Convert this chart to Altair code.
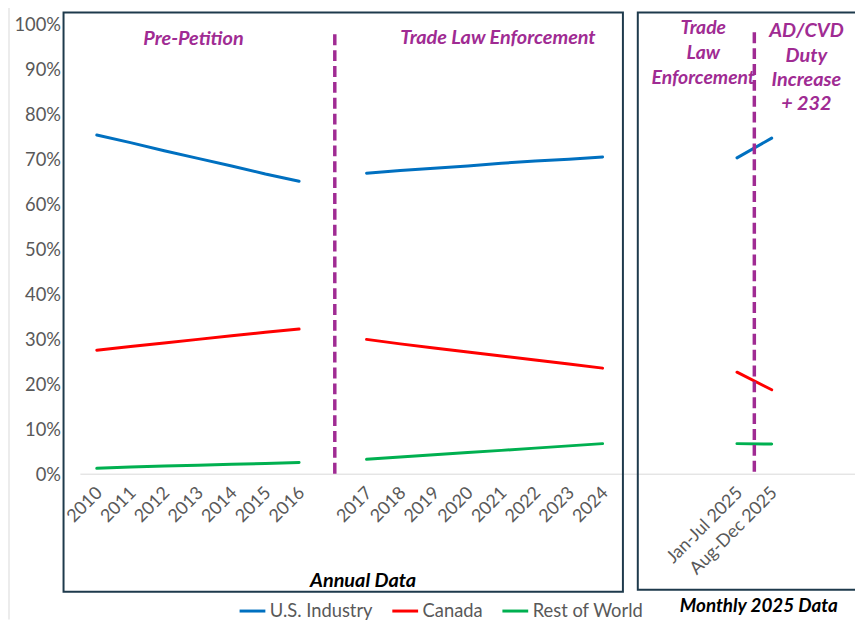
import altair as alt
import pandas as pd

# ---------------- data ----------------
years_pre = ["2010", "2011", "2012", "2013", "2014", "2015", "2016"]
years_post = ["2017", "2018", "2019", "2020", "2021", "2022", "2023", "2024"]
months = ["Jan-Jul 2025", "Aug-Dec 2025"]
series = ["U.S. Industry", "Canada", "Rest of World"]
colors = ["#0070C0", "#FF0000", "#00B050"]

us_pre = [0.755, 0.738, 0.720, 0.703, 0.686, 0.668, 0.652]
can_pre = [0.276, 0.284, 0.292, 0.300, 0.308, 0.316, 0.323]
row_pre = [0.013, 0.016, 0.018, 0.020, 0.022, 0.024, 0.026]

us_post = [0.670, 0.676, 0.681, 0.686, 0.692, 0.697, 0.701, 0.706]
can_post = [0.300, 0.290, 0.281, 0.272, 0.263, 0.254, 0.245, 0.236]
row_post = [0.033, 0.038, 0.043, 0.048, 0.053, 0.058, 0.063, 0.068]

us_m = [0.704, 0.748]
can_m = [0.227, 0.188]
row_m = [0.068, 0.067]

GAP = " "
annual_domain = years_pre + [GAP] + years_post
monthly_domain = [months[0], GAP, months[1]]

rows = []
for s, vals in zip(series, [us_pre, can_pre, row_pre]):
    for p, v in zip(years_pre, vals):
        rows.append({"period": p, "series": s, "value": v, "segment": s + " pre"})
for s, vals in zip(series, [us_post, can_post, row_post]):
    for p, v in zip(years_post, vals):
        rows.append({"period": p, "series": s, "value": v, "segment": s + " post"})
annual_df = pd.DataFrame(rows)

mrows = []
for s, vals in zip(series, [us_m, can_m, row_m]):
    for p, v in zip(months, vals):
        mrows.append({"period": p, "series": s, "value": v})
monthly_df = pd.DataFrame(mrows)

# ---------------- styles ----------------
PURPLE = "#A02B93"
NAVY = "#1E3A4C"
GRAY = "#595959"
FONT = "Lato"
W, H = 798, 584

yscale = alt.Scale(domain=[-0.2616, 1.0276], nice=False, zero=False)
cscale = alt.Scale(domain=series, range=colors)
legend = alt.Legend(orient="none", legendX=176, legendY=589, direction="horizontal",
                    title=None, symbolType="stroke", symbolStrokeWidth=3, symbolSize=676,
                    labelFontSize=18.5, labelColor=GRAY, labelFont=FONT, columnPadding=13,
                    labelOffset=3)
yaxis = alt.Axis(values=[i / 10 for i in range(11)], format=".0%", grid=False, domain=False,
                 ticks=False, labelFontSize=18.5, labelColor=GRAY, labelFont=FONT,
                 labelPadding=3, title=None)

ax = alt.X("period:N", scale=alt.Scale(type="point", domain=annual_domain,
                                        range=[33.5, 543.5], padding=0), axis=None)
mx = alt.X("period:N", scale=alt.Scale(type="point", domain=monthly_domain,
                                        range=[679, 714], padding=0), axis=None)

one = pd.DataFrame({"k": [0]})

# ---------- annual group ----------
a_lines = alt.Chart(annual_df).mark_line(strokeWidth=3, strokeCap="round").encode(
    x=ax,
    y=alt.Y("value:Q", scale=yscale, axis=yaxis),
    color=alt.Color("series:N", scale=cscale, legend=legend, sort=series),
    detail="segment:N",
)
a_labels = alt.Chart(pd.DataFrame({"period": years_pre + years_post})).mark_text(
    angle=315, align="right", baseline="middle", fontSize=18, font=FONT, color=GRAY,
    xOffset=3,
).encode(x=ax, y=alt.value(482), text="period:N")
a_dash = alt.Chart(pd.DataFrame({"period": [GAP]})).mark_rule(
    color=PURPLE, strokeWidth=3.5, strokeDash=[11, 5], xOffset=2
).encode(x=ax, y=alt.value(22), y2=alt.value(465))
annual = alt.layer(a_lines, a_labels, a_dash)

# ---------- monthly group ----------
m_lines = alt.Chart(monthly_df).mark_line(strokeWidth=3, strokeCap="round").encode(
    x=mx,
    y=alt.Y("value:Q", scale=yscale, axis=yaxis),
    color=alt.Color("series:N", scale=cscale, legend=legend, sort=series),
    detail="series:N",
)
m_labels = alt.Chart(pd.DataFrame({"period": months})).mark_text(
    angle=315, align="right", baseline="middle", fontSize=18, font=FONT, color=GRAY,
    xOffset=3,
).encode(x=mx, y=alt.value(482), text="period:N")
m_dash = alt.Chart(pd.DataFrame({"period": [GAP]})).mark_rule(
    color=PURPLE, strokeWidth=3.5, strokeDash=[11, 5]
).encode(x=mx, y=alt.value(20), y2=alt.value(463))
monthly = alt.layer(m_lines, m_labels, m_dash)

# ---------- decorations ----------
zero_line = alt.Chart(one).mark_rule(color="#D9D9D9", strokeWidth=1).encode(
    x=alt.value(17), x2=alt.value(W), y=alt.value(465.5)
)
outer_left = alt.Chart(one).mark_rule(color="#D9D9D9", strokeWidth=1).encode(
    x=alt.value(-55), y=alt.value(-7), y2=alt.value(612)
)
box_left = alt.Chart(one).mark_rect(filled=False, stroke=NAVY, strokeWidth=2).encode(
    x=alt.value(0), x2=alt.value(564), y=alt.value(0), y2=alt.value(584)
)
box_right = alt.Chart(one).mark_rect(filled=False, stroke=NAVY, strokeWidth=2).encode(
    x=alt.value(579), x2=alt.value(812), y=alt.value(0), y2=alt.value(582)
)

def note(text, x, y, color=PURPLE, size=20, lh=25):
    return alt.Chart(one).mark_text(
        text=text, lineBreak="\n", align="center", baseline="alphabetic",
        fontSize=size, font=FONT, fontStyle="italic", fontWeight="bold",
        color=color, lineHeight=lh,
    ).encode(x=alt.value(x), y=alt.value(y))

notes = [
    note("Pre-Petition", 131, 33),
    note("Trade Law Enforcement", 438, 32),
    note("Trade\nLaw\nEnforcement", 645, 22, size=19.5),
    note("AD/CVD\nDuty\nIncrease\n+ 232", 749, 25, lh=24.5),
    note("Annual Data", 302, 579, color="#000000"),
    note("Monthly 2025 Data", 701, 604, color="#000000", size=19),
]

chart = alt.layer(
    outer_left, zero_line, box_left, box_right, annual, monthly, *notes
).resolve_scale(x="independent").properties(
    width=W, height=H,
    autosize=alt.AutoSizeParams(type="none"),
    padding={"left": 56, "top": 2, "right": 0, "bottom": 26},
).configure_view(stroke=None)

chart.save("out.html", embed_options={"renderer": "svg", "actions": False})
